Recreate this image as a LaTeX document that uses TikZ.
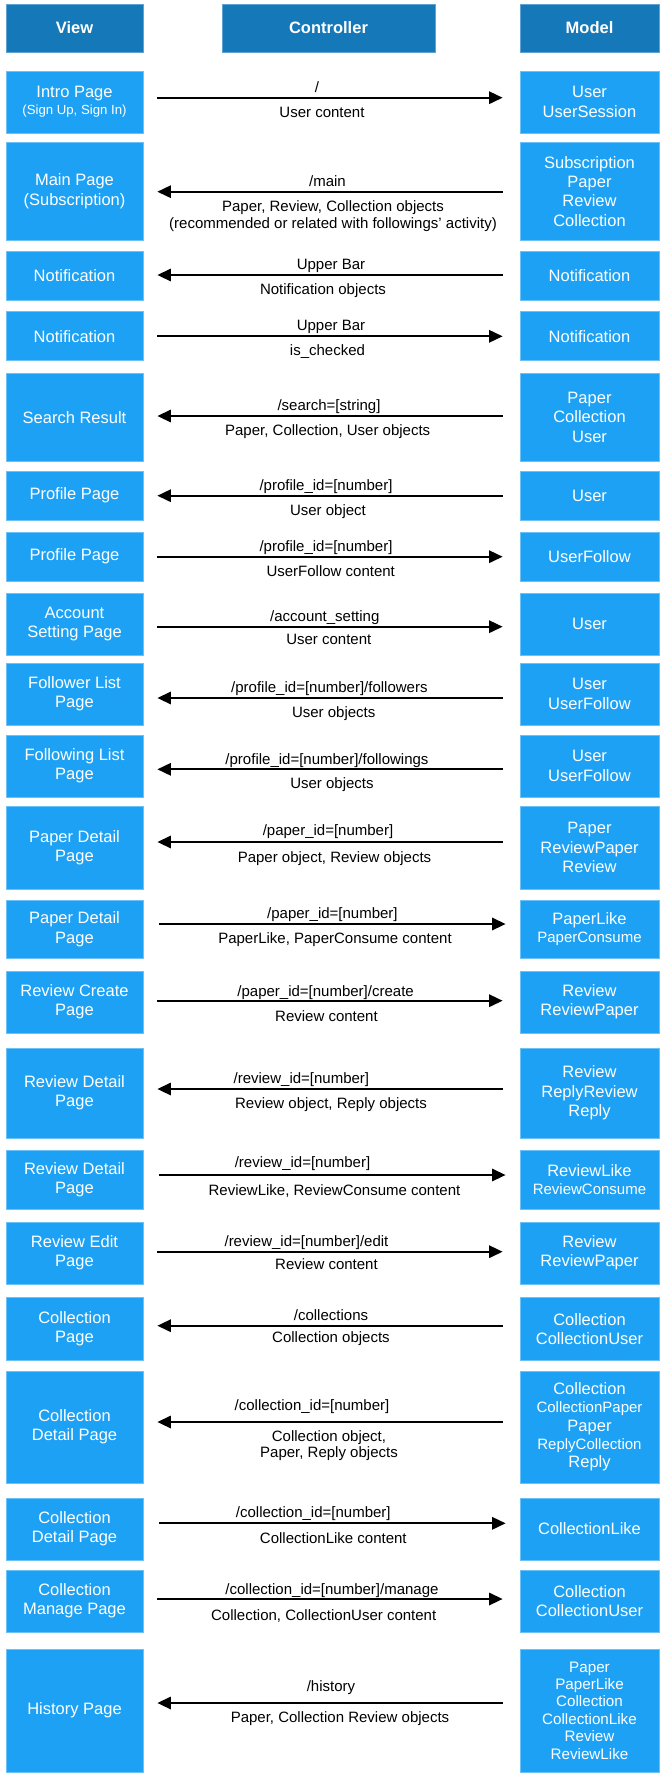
\documentclass[tikz,border=0pt]{standalone}
\usepackage{fontspec}
\setmainfont{Liberation Sans}
\usetikzlibrary{arrows.meta}
\definecolor{rowblue}{HTML}{1DA1F5}
\definecolor{rowline}{HTML}{6CC2F7}
\definecolor{hdrblue}{HTML}{1578B9}
\definecolor{hdrline}{HTML}{5DA3D3}
\newcommand\boxfnt{\fontsize{16.5}{19.3}\selectfont}
\newcommand\smallfnt{\fontsize{15}{18}\selectfont}
\newcommand\lblfnt{\fontsize{15}{16.5}\selectfont}
\tikzset{
  box/.style={draw=rowline, fill=rowblue, line width=0.7pt, text=white, align=center, inner sep=0pt, font=\boxfnt},
  hdr/.style={draw=hdrline, fill=hdrblue, line width=0.7pt, text=white, inner sep=0pt, font=\boxfnt\bfseries, minimum height=48pt},
  arr/.style={line width=2.3pt, -{Triangle[length=13.6pt,width=12.3pt]}},
  toM/.style={arr, shorten <=14pt, shorten >=17pt},
  toMb/.style={arr, shorten <=16pt, shorten >=14pt},
  toV/.style={arr, shorten <=17pt, shorten >=14pt},
  lbl/.style={font=\lblfnt, inner sep=0pt, align=center, anchor=base}
}
% #1 index, #2 top, #3 bottom, #4 view text, #5 model text
\newcommand\mvcrow[5]{%
  \node[box, minimum width=137pt, minimum height={(#3-#2)*1pt}] (v#1) at (74.5,{(#2+#3)/2}) {#4};
  \node[box, minimum width=139pt, minimum height={(#3-#2)*1pt}] (m#1) at (589.5,{(#2+#3)/2}) {#5};
}
\newcommand\lab[4]{\node[lbl] (#1) at (#2,{#3+5.3}) {#4};}
\begin{document}
\begin{tikzpicture}[x=1pt,y=-1pt]
\useasboundingbox (0,0) rectangle (662,1778);
% headers
\node[hdr, minimum width=137pt] (hv) at (74.5,28) {View};
\node[hdr, minimum width=213pt] (hc) at (328.5,28) {Controller};
\node[hdr, minimum width=139pt] (hm) at (589.5,28) {Model};
% rows
\mvcrow{1}{71}{133}{Intro Page\\[-2pt]{\fontsize{13.2}{16}\selectfont (Sign Up, Sign In)}}{User\\UserSession}
\mvcrow{2}{142.7}{240}{Main Page\\(Subscription)}{Subscription\\Paper\\Review\\Collection}
\mvcrow{3}{251}{300}{Notification}{Notification}
\mvcrow{4}{311.7}{360.7}{Notification}{Notification}
\mvcrow{5}{373}{461.7}{Search Result}{Paper\\Collection\\User}
\mvcrow{6}{471}{520}{Profile Page}{User}
\mvcrow{7}{532}{581}{Profile Page}{UserFollow}
\mvcrow{8}{593}{655}{Account\\Setting Page}{User}
\mvcrow{9}{663}{725}{Follower List\\Page}{User\\UserFollow}
\mvcrow{10}{735}{797}{Following List\\Page}{User\\UserFollow}
\mvcrow{11}{806}{889}{Paper Detail\\Page}{Paper\\ReviewPaper\\Review}
\mvcrow{12}{900}{958.7}{Paper Detail\\Page}{PaperLike\\[-1pt]{\smallfnt PaperConsume}}
\mvcrow{13}{971}{1033}{Review Create\\Page}{Review\\ReviewPaper}
\mvcrow{14}{1048}{1138}{Review Detail\\Page}{Review\\ReplyReview\\Reply}
\mvcrow{15}{1150}{1209}{Review Detail\\Page}{ReviewLike\\[-1pt]{\smallfnt ReviewConsume}}
\mvcrow{16}{1222}{1284}{Review Edit\\Page}{Review\\ReviewPaper}
\mvcrow{17}{1297.7}{1360}{Collection\\Page}{Collection\\CollectionUser}
\mvcrow{18}{1371}{1483}{Collection\\Detail Page}{Collection\\[-1pt]{\smallfnt CollectionPaper}\\[-1pt]Paper\\[-1pt]{\smallfnt ReplyCollection}\\[-1pt]Reply}
\mvcrow{19}{1498}{1560}{Collection\\Detail Page}{CollectionLike}
\mvcrow{20}{1570}{1632}{Collection\\Manage Page}{Collection\\CollectionUser}
\node[box, minimum width=137pt, minimum height=123pt] (v21) at (74.5,1710.5) {History Page};
\node[box, minimum width=139pt, minimum height=123pt, font=\fontsize{15.2}{17.4}\selectfont] (m21) at (589.5,1710.5) {Paper\\PaperLike\\Collection\\CollectionLike\\Review\\ReviewLike};
% arrows
\draw[toM] (v1.east |- 0,97.7) -- (m1.west |- 0,97.7);
\draw[toV] (m2.west |- 0,191.7) -- (v2.east |- 0,191.7);
\draw[toV] (m3.west |- 0,275) -- (v3.east |- 0,275);
\draw[toM] (v4.east |- 0,336.3) -- (m4.west |- 0,336.3);
\draw[toV] (m5.west |- 0,416) -- (v5.east |- 0,416);
\draw[toV] (m6.west |- 0,495.7) -- (v6.east |- 0,495.7);
\draw[toM] (v7.east |- 0,556.7) -- (m7.west |- 0,556.7);
\draw[toM] (v8.east |- 0,626.7) -- (m8.west |- 0,626.7);
\draw[toV] (m9.west |- 0,698) -- (v9.east |- 0,698);
\draw[toV] (m10.west |- 0,769.3) -- (v10.east |- 0,769.3);
\draw[toV] (m11.west |- 0,842) -- (v11.east |- 0,842);
\draw[toMb] (v12.east |- 0,924) -- (m12.west |- 0,924);
\draw[toM] (v13.east |- 0,1000.7) -- (m13.west |- 0,1000.7);
\draw[toV] (m14.west |- 0,1089) -- (v14.east |- 0,1089);
\draw[toMb] (v15.east |- 0,1175) -- (m15.west |- 0,1175);
\draw[toM] (v16.east |- 0,1251.7) -- (m16.west |- 0,1251.7);
\draw[toV] (m17.west |- 0,1325.7) -- (v17.east |- 0,1325.7);
\draw[toV] (m18.west |- 0,1422) -- (v18.east |- 0,1422);
\draw[toMb] (v19.east |- 0,1523.3) -- (m19.west |- 0,1523.3);
\draw[toM] (v20.east |- 0,1599) -- (m20.west |- 0,1599);
\draw[toV] (m21.west |- 0,1703) -- (v21.east |- 0,1703);
% labels
\lab{la1}{317}{87}{/}
\lab{lb1}{322}{112}{User content}
\lab{la2}{327.5}{181}{/main}
\lab{lb2}{333}{222.7}{Paper, Review, Collection objects\\(recommended or related with followings’ activity)}
\lab{la3}{331}{264}{Upper Bar}
\lab{lb3}{323}{289}{Notification objects}
\lab{la4}{331}{325}{Upper Bar}
\lab{lb4}{327.5}{350}{is\_checked}
\lab{la5}{329}{405}{/search=[string]}
\lab{lb5}{327.7}{430}{Paper, Collection, User objects}
\lab{la6}{326}{485}{/profile\_id=[number]}
\lab{lb6}{328}{510}{User object}
\lab{la7}{326}{546}{/profile\_id=[number]}
\lab{lb7}{330.7}{570.7}{UserFollow content}
\lab{la8}{324.8}{616}{/account\_setting}
\lab{lb8}{328.8}{639}{User content}
\lab{la9}{329.4}{686.7}{/profile\_id=[number]/followers}
\lab{lb9}{333.7}{711.7}{User objects}
\lab{la10}{327}{759}{/profile\_id=[number]/followings}
\lab{lb10}{332}{782.7}{User objects}
\lab{la11}{328}{830}{/paper\_id=[number]}
\lab{lb11}{334.5}{856.7}{Paper object, Review objects}
\lab{la12}{332.4}{913}{/paper\_id=[number]}
\lab{lb12}{335}{938}{PaperLike, PaperConsume content}
\lab{la13}{325.6}{990.7}{/paper\_id=[number]/create}
\lab{lb13}{326.5}{1015.7}{Review content}
\lab{la14}{301.4}{1077.7}{/review\_id=[number]}
\lab{lb14}{331}{1103}{Review object, Reply objects}
\lab{la15}{302.5}{1162}{/review\_id=[number]}
\lab{lb15}{334.5}{1190}{ReviewLike, ReviewConsume content}
\lab{la16}{306.5}{1240.7}{/review\_id=[number]/edit}
\lab{lb16}{326.5}{1264}{Review content}
\lab{la17}{331}{1315}{/collections}
\lab{lb17}{331}{1336.7}{Collection objects}
\lab{la18}{312}{1405}{/collection\_id=[number]}
\lab{lb18}{329}{1451.7}{Collection object,\\[-1pt]Paper, Reply objects}
\lab{la19}{313.3}{1512}{/collection\_id=[number]}
\lab{lb19}{333.3}{1537.7}{CollectionLike content}
\lab{la20}{332}{1588.7}{/collection\_id=[number]/manage}
\lab{lb20}{323.7}{1615}{Collection, CollectionUser content}
\lab{la21}{331}{1686}{/history}
\lab{lb21}{340}{1717}{Paper, Collection Review objects}
\end{tikzpicture}
\end{document}
